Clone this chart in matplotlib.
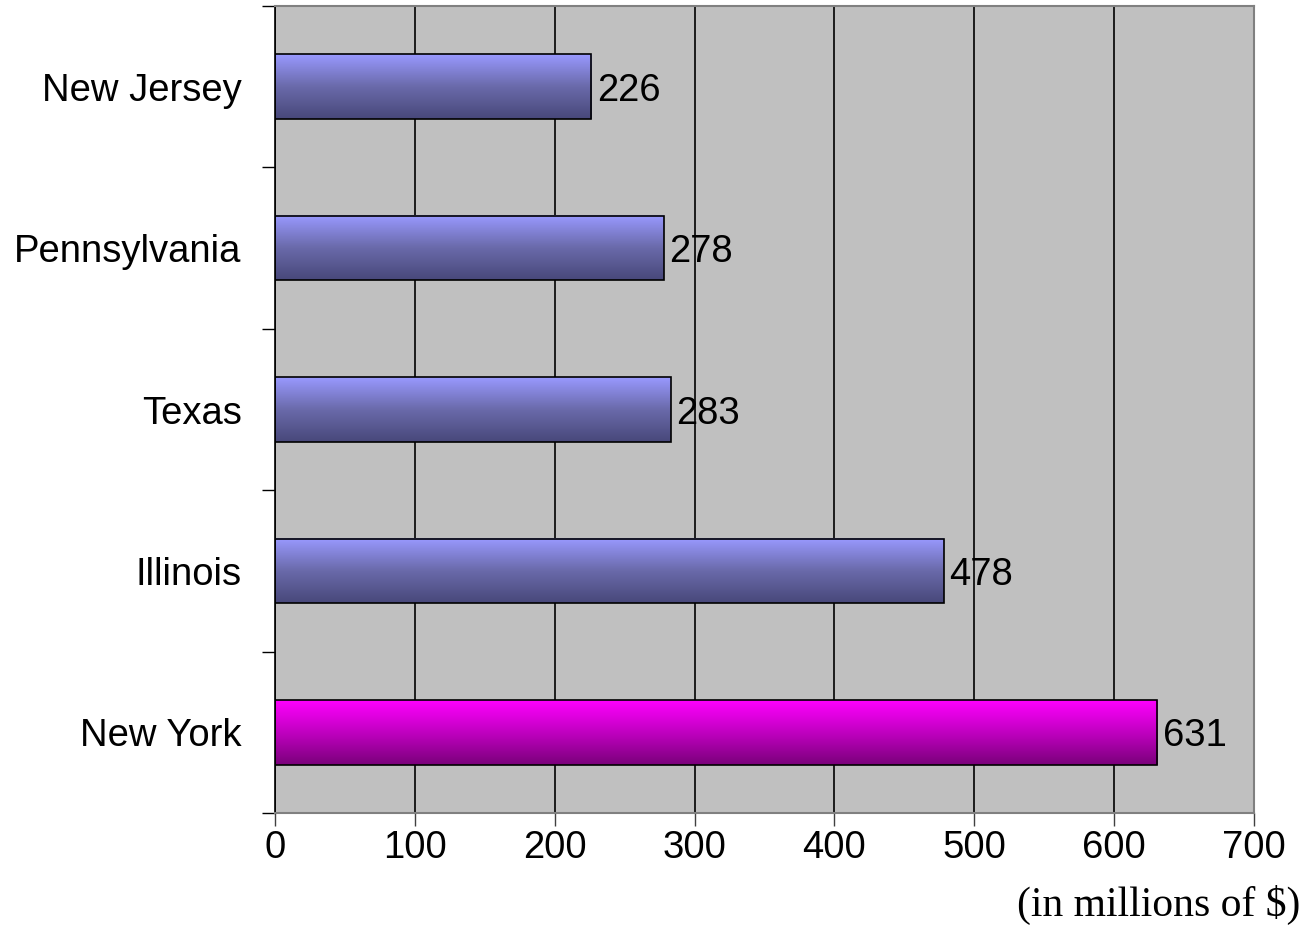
import numpy as np
import matplotlib.pyplot as plt
from matplotlib.colors import LinearSegmentedColormap

states = ['New York', 'Illinois', 'Texas', 'Pennsylvania', 'New Jersey']
values = [631, 478, 283, 278, 226]
x_ticks = [0, 100, 200, 300, 400, 500, 600, 700]

blue_cmap = LinearSegmentedColormap.from_list('blue', ['#48487a', '#6a6aaa', '#9999ff'])
pink_cmap = LinearSegmentedColormap.from_list('pink', ['#7a007a', '#c000c0', '#ff00ff'])

fig = plt.figure(figsize=(13.06, 9.51), dpi=100)
ax = fig.add_axes([275 / 1306, 1 - 813 / 951, 979 / 1306, 807 / 951])
ax.set_facecolor('#c0c0c0')

ypos = np.arange(len(states))
bars = ax.barh(ypos, values, height=0.4, color='none', edgecolor='black', linewidth=1.2, zorder=3)

grad = np.linspace(0, 1, 256).reshape(-1, 1)
for i, b in enumerate(bars):
    cmap = pink_cmap if states[i] == 'New York' else blue_cmap
    x0, y0 = b.get_x(), b.get_y()
    ax.imshow(grad, cmap=cmap, aspect='auto', origin='lower',
              extent=[x0, x0 + b.get_width(), y0, y0 + b.get_height()], zorder=2)
    ax.text(b.get_width() + 4, y0 + b.get_height() / 2, str(values[i]),
            va='center_baseline', ha='left', fontsize=27.5, family='Liberation Sans', zorder=4)

ax.set_xlim(0, 700)
ax.set_ylim(-0.5, len(states) - 0.5)
ax.set_xticks(x_ticks)
ax.set_xticklabels([str(t) for t in x_ticks], fontsize=27.5, family='Liberation Sans')
ax.set_yticks(ypos)
ax.set_yticklabels(states, fontsize=27.5, family='Liberation Sans')
ax.set_yticks(np.arange(-0.5, len(states)), minor=True)
ax.tick_params(axis='y', which='major', length=0, pad=24)
ax.tick_params(axis='y', which='minor', length=9.5, width=1, color='black')
ax.tick_params(axis='x', length=9.5, width=1, pad=3, color='#404040')

ax.grid(axis='x', color='black', linewidth=1.2, zorder=1)
ax.set_axisbelow(True)
ax.spines['left'].set_color('black')
ax.spines['left'].set_linewidth(1.2)
for s in ['top', 'right', 'bottom']:
    ax.spines[s].set_color('#808080')
    ax.spines[s].set_linewidth(1.5)

fig.text(1300 / 1306, 1 - 905 / 951, '(in millions of $)', ha='right', va='center',
         fontsize=30, family='Liberation Serif')

fig.savefig('out.png', dpi=100)
